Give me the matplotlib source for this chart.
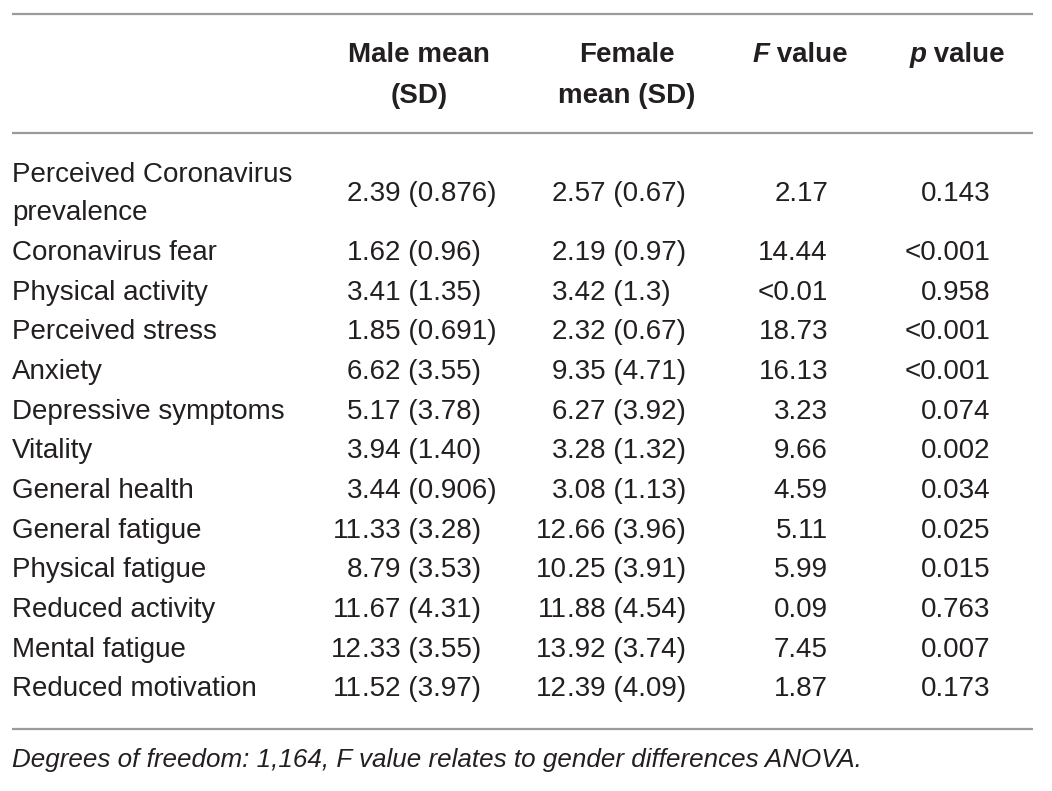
import matplotlib.pyplot as plt

plt.rcParams['font.family'] = ['Liberation Sans', 'DejaVu Sans']

# table content
variables = ["Perceived Coronavirus\nprevalence", "Coronavirus fear", "Physical activity",
             "Perceived stress", "Anxiety", "Depressive symptoms", "Vitality",
             "General health", "General fatigue", "Physical fatigue",
             "Reduced activity", "Mental fatigue", "Reduced motivation"]
male = ["2.39 (0.876)", "1.62 (0.96)", "3.41 (1.35)", "1.85 (0.691)", "6.62 (3.55)",
        "5.17 (3.78)", "3.94 (1.40)", "3.44 (0.906)", "11.33 (3.28)", "8.79 (3.53)",
        "11.67 (4.31)", "12.33 (3.55)", "11.52 (3.97)"]
female = ["2.57 (0.67)", "2.19 (0.97)", "3.42 (1.3)", "2.32 (0.67)", "9.35 (4.71)",
          "6.27 (3.92)", "3.28 (1.32)", "3.08 (1.13)", "12.66 (3.96)", "10.25 (3.91)",
          "11.88 (4.54)", "13.92 (3.74)", "12.39 (4.09)"]
f_values = ["2.17", "14.44", "<0.01", "18.73", "16.13", "3.23", "9.66", "4.59",
            "5.11", "5.99", "0.09", "7.45", "1.87"]
p_values = ["0.143", "<0.001", "0.958", "<0.001", "<0.001", "0.074", "0.002",
            "0.034", "0.025", "0.015", "0.763", "0.007", "0.173"]
footnote = "Degrees of freedom: 1,164, F value relates to gender differences ANOVA."

W, H = 1052, 791
fig = plt.figure(figsize=(W / 100, H / 100), dpi=100)
ax = fig.add_axes([0, 0, 1, 1])
ax.set_xlim(0, W)
ax.set_ylim(H, 0)
ax.axis('off')

fs = 20
col = '#231f20'
lc = '#9a9a9a'

# rules
for y in (14, 133, 729):
    ax.plot([12, 1033], [y, y], color=lc, lw=1.6, solid_capstyle='butt')

# header
hy1, hy2 = 55, 96
ax.text(419, hy1, "Male mean", ha='center', va='center', fontsize=fs, weight='bold', color=col)
ax.text(419, hy2, "(SD)", ha='center', va='center', fontsize=fs, weight='bold', color=col)
ax.text(627, hy1, "Female", ha='center', va='center', fontsize=fs, weight='bold', color=col)
ax.text(627, hy2, "mean (SD)", ha='center', va='center', fontsize=fs, weight='bold', color=col)

renderer = fig.canvas.get_renderer()
inv = ax.transData.inverted()
for letter, xr in (("F", 848), ("p", 1005)):
    t = ax.text(xr, hy1, " value", ha='right', va='center', fontsize=fs,
                weight='bold', color=col)
    x0 = inv.transform(t.get_window_extent(renderer).get_points())[0][0]
    ax.text(x0, hy1, letter, ha='right', va='center', fontsize=fs,
            weight='bold', style='italic', color=col)

# rows
row_y = [194] + [253 + 39.67 * i for i in range(12)]
male_dec, female_dec = 362, 567
for i, y in enumerate(row_y):
    ax.text(12, y, variables[i], ha='left', va='center', fontsize=fs, color=col,
            linespacing=1.6)
    for txt, xd in ((male[i], male_dec), (female[i], female_dec)):
        whole, rest = txt.split('.', 1)
        ax.text(xd, y, whole, ha='right', va='center', fontsize=fs, color=col)
        ax.text(xd, y, '.' + rest, ha='left', va='center', fontsize=fs, color=col)
    ax.text(828, y, f_values[i], ha='right', va='center', fontsize=fs, color=col)
    ax.text(990, y, p_values[i], ha='right', va='center', fontsize=fs, color=col)

ax.text(12, 760, footnote, ha='left', va='center', fontsize=18.7, style='italic', color=col)

fig.savefig('out.png', dpi=100, facecolor='white')
